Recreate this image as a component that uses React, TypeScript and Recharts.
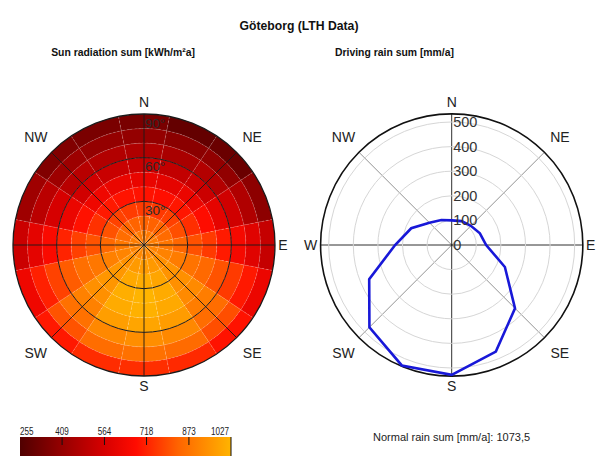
import { PieChart, Pie, Cell, RadarChart, Radar, PolarGrid, PolarAngleAxis, PolarRadiusAxis } from "recharts";

const FONT = "'Liberation Sans', Arial, sans-serif";

// compass directions, clockwise from north
const directions = ["N", "NNE", "NE", "ENE", "E", "ESE", "SE", "SSE", "S", "SSW", "SW", "WSW", "W", "WNW", "NW", "NNW"];

// sun radiation sum [kWh/m²a] per tilt band (0-10° ... 80-90°), one value per direction
const sun0 = [890, 888, 890, 895, 900, 908, 915, 920, 922, 920, 915, 908, 900, 895, 892, 890];
const sun1 = [832, 830, 837, 852, 877, 907, 937, 962, 970, 964, 942, 912, 882, 855, 840, 834];
const sun2 = [762, 757, 770, 797, 842, 892, 947, 992, 1007, 997, 957, 902, 847, 802, 774, 764];
const sun3 = [690, 683, 697, 740, 800, 870, 940, 1005, 1027, 1012, 955, 880, 805, 745, 703, 692];
const sun4 = [615, 605, 622, 678, 760, 845, 925, 1000, 1020, 1005, 940, 860, 770, 688, 632, 618];
const sun5 = [525, 515, 535, 605, 705, 805, 895, 970, 990, 975, 905, 820, 720, 622, 550, 530];
const sun6 = [470, 458, 478, 548, 650, 760, 855, 920, 935, 922, 865, 775, 665, 562, 490, 475];
const sun7 = [405, 385, 400, 470, 590, 700, 795, 850, 865, 855, 805, 715, 600, 495, 425, 408];
const sun8 = [345, 300, 312, 390, 520, 625, 690, 730, 740, 735, 700, 632, 535, 430, 362, 348];
const sunBands = [sun0, sun1, sun2, sun3, sun4, sun5, sun6, sun7, sun8];
const tiltStep = 10;
const tiltLabels = [30, 60, 90];

// driving rain sum [mm/a]
const rainSum = [100, 105, 110, 124, 140, 234, 364, 469, 528, 530, 473, 363, 230, 178, 128, 110];
const rainMax = 500;
const rainFrame = 533;

const barTicks = [255, 409, 564, 718, 873, 1027];

const heatStops: [number, number[]][] = [
  [0, [80, 0, 0]],
  [0.2, [150, 0, 0]],
  [0.4, [215, 0, 0]],
  [0.55, [255, 12, 0]],
  [0.75, [255, 100, 0]],
  [1, [255, 180, 0]],
];

function heat(v: number) {
  const lo = barTicks[0];
  const hi = barTicks[barTicks.length - 1];
  const t = Math.max(0, Math.min(1, (v - lo) / (hi - lo)));
  for (let i = 1; i < heatStops.length; i++) {
    const [t1, c1] = heatStops[i];
    const [t0, c0] = heatStops[i - 1];
    if (t <= t1) {
      const k = (t - t0) / (t1 - t0);
      const c = c0.map((x, j) => Math.round(x + (c1[j] - x) * k));
      return `rgb(${c[0]},${c[1]},${c[2]})`;
    }
  }
  return "rgb(255,180,0)";
}

const W = 599;
const H = 456;
const L = { cx: 144, cy: 245, r: 131 };
const R = { cx: 451.7, cy: 245, r: 123 };
const rainR = (v: number) => (v / rainMax) * R.r;
const tiltR = (t: number) => (t / 90) * L.r;

const pt = (cx: number, cy: number, r: number, deg: number) => {
  const a = (deg * Math.PI) / 180;
  return [cx + r * Math.sin(a), cy - r * Math.cos(a)];
};

const compass = [
  { name: "N", deg: 0, r: 143 },
  { name: "NE", deg: 45, r: 153 },
  { name: "E", deg: 90, r: 139 },
  { name: "SE", deg: 135, r: 153 },
  { name: "S", deg: 180, r: 141 },
  { name: "SW", deg: 225, r: 153 },
  { name: "W", deg: 270, r: 141 },
  { name: "NW", deg: 315, r: 153 },
];

const rainData = directions.map((d, i) => ({ dir: d, rain: rainSum[i] }));

function RainTick(props: any) {
  const { x, y, payload } = props;
  return (
    <text x={x + 1.5} y={y} textAnchor="start" dominantBaseline="central" fontSize={14.5} fill="#333" fontFamily={FONT}>
      {payload.value}
    </text>
  );
}

function Overlay() {
  const span = barTicks[barTicks.length - 1] - barTicks[0];
  const barX = 20;
  const barW = 211;
  const barY = 437;
  const bx = (v: number) => barX + ((v - barTicks[0]) / span) * barW;
  return (
    <svg width={W} height={H} style={{ position: "absolute", left: 0, top: 0 }}>
      <defs>
        <linearGradient id="heatbar" x1="0" x2="1" y1="0" y2="0">
          {heatStops.map(([t, c]) => (
            <stop key={t} offset={t} stopColor={`rgb(${c[0]},${c[1]},${c[2]})`} />
          ))}
        </linearGradient>
      </defs>
      <text x={299} y={30} textAnchor="middle" fontSize={12.2} fontWeight="bold" fontFamily={FONT} fill="#111">Göteborg (LTH Data)</text>
      <text x={123} y={56} textAnchor="middle" fontSize={10.4} fontWeight="bold" fontFamily={FONT} fill="#111">Sun radiation sum [kWh/m²a]</text>
      <text x={394.5} y={56} textAnchor="middle" fontSize={10.4} fontWeight="bold" fontFamily={FONT} fill="#111">Driving rain sum [mm/a]</text>

      {/* left frame */}
      {[0, 45, 90, 135].map((d) => {
        const [x1, y1] = pt(L.cx, L.cy, L.r, d);
        const [x2, y2] = pt(L.cx, L.cy, L.r, d + 180);
        return <line key={d} x1={x1} y1={y1} x2={x2} y2={y2} stroke="#1a1a1a" strokeWidth={0.9} />;
      })}
      {tiltLabels.map((t) => (
        <circle key={t} cx={L.cx} cy={L.cy} r={tiltR(t)} fill="none" stroke="#1a1a1a" strokeWidth={t === 90 ? 1.3 : 1} />
      ))}
      {tiltLabels.map((t) => (
        <text key={t} x={L.cx + 1} y={L.cy - tiltR(t) + 9} dominantBaseline="central" fontSize={13.5} fontFamily={FONT} fill="#2a2a2a">{`${t}°`}</text>
      ))}
      {compass.filter((c) => c.name !== "W").map((c) => {
        const [x, y] = pt(L.cx, L.cy, c.r, c.deg);
        return <text key={c.name} x={x} y={y} textAnchor="middle" dominantBaseline="central" fontSize={14} fontFamily={FONT} fill="#222">{c.name}</text>;
      })}

      {/* right frame */}
      {[45, 135].map((d) => {
        const [x1, y1] = pt(R.cx, R.cy, rainR(rainFrame), d);
        const [x2, y2] = pt(R.cx, R.cy, rainR(rainFrame), d + 180);
        return <line key={d} x1={x1} y1={y1} x2={x2} y2={y2} stroke="#777" strokeWidth={0.8} />;
      })}
      {[0, 90].map((d) => {
        const [x1, y1] = pt(R.cx, R.cy, rainR(rainFrame), d);
        const [x2, y2] = pt(R.cx, R.cy, rainR(rainFrame), d + 180);
        return <line key={d} x1={x1} y1={y1} x2={x2} y2={y2} stroke="#1a1a1a" strokeWidth={0.9} />;
      })}
      <circle cx={R.cx} cy={R.cy} r={rainR(rainFrame)} fill="none" stroke="#111" strokeWidth={1.6} />
      {compass.map((c) => {
        const [x, y] = pt(R.cx, R.cy, c.r, c.deg);
        return <text key={c.name} x={x} y={y} textAnchor="middle" dominantBaseline="central" fontSize={14} fontFamily={FONT} fill="#222">{c.name}</text>;
      })}

      {/* colour bar */}
      <rect x={barX} y={barY} width={barW} height={H - barY} fill="url(#heatbar)" />
      {barTicks.map((v, i) => {
        const x = bx(v);
        const anchor = i === 0 ? "start" : i === barTicks.length - 1 ? "end" : "middle";
        const s = String(v);
        return (
          <g key={v}>
            {i > 0 && <line x1={x} y1={barY} x2={x} y2={i === barTicks.length - 1 ? H : barY + 8} stroke="#111" strokeWidth={1} />}
            <text x={i === barTicks.length - 1 ? x - 2 : x} y={435} textAnchor={anchor} fontSize={10} fontFamily={FONT} fill="#222" textLength={s.length * 4.5} lengthAdjust="spacingAndGlyphs">{s}</text>
          </g>
        );
      })}
      <text x={373} y={441} fontSize={11} fontFamily={FONT} fill="#222">Normal rain sum [mm/a]: 1073,5</text>
    </svg>
  );
}

export default function App() {
  return (
    <div style={{ position: "absolute", left: 0, top: 0, width: W, height: H, background: "#fff", overflow: "hidden" }}>
      <div style={{ position: "absolute", left: 0, top: 0 }}>
        <PieChart width={W} height={H} margin={{ top: 0, right: 0, bottom: 0, left: 0 }}>
          {sunBands.map((band, i) => (
            <Pie
              key={i}
              data={band.map((v, j) => ({ dir: directions[j], value: v, share: 1 }))}
              dataKey="share"
              cx={L.cx}
              cy={L.cy}
              innerRadius={tiltR(i * tiltStep)}
              outerRadius={tiltR((i + 1) * tiltStep)}
              startAngle={90 + 180 / directions.length}
              endAngle={90 + 180 / directions.length - 360}
              stroke="rgba(255,255,255,0.3)"
              strokeWidth={0.6}
              strokeDasharray="2 2"
              label={false}
              labelLine={false}
              isAnimationActive={false}
            >
              {band.map((v, j) => (
                <Cell key={j} fill={heat(v)} />
              ))}
            </Pie>
          ))}
        </PieChart>
      </div>
      <Overlay />
      <div style={{ position: "absolute", left: 0, top: 0 }}>
        <RadarChart width={W} height={H} data={rainData} cx={R.cx} cy={R.cy} outerRadius={R.r} margin={{ top: 0, right: 0, bottom: 0, left: 0 }}>
          <PolarGrid gridType="circle" radialLines={false} stroke="#d6d6d6" strokeWidth={1} />
          <PolarAngleAxis dataKey="dir" tick={false} axisLine={false} tickLine={false} />
          <PolarRadiusAxis angle={90} domain={[0, rainMax]} tickCount={6} allowDataOverflow axisLine={false} tick={RainTick} />
          <Radar dataKey="rain" stroke="#1818d8" strokeWidth={2.6} fill="none" fillOpacity={0} dot={false} isAnimationActive={false} />
        </RadarChart>
      </div>
    </div>
  );
}
